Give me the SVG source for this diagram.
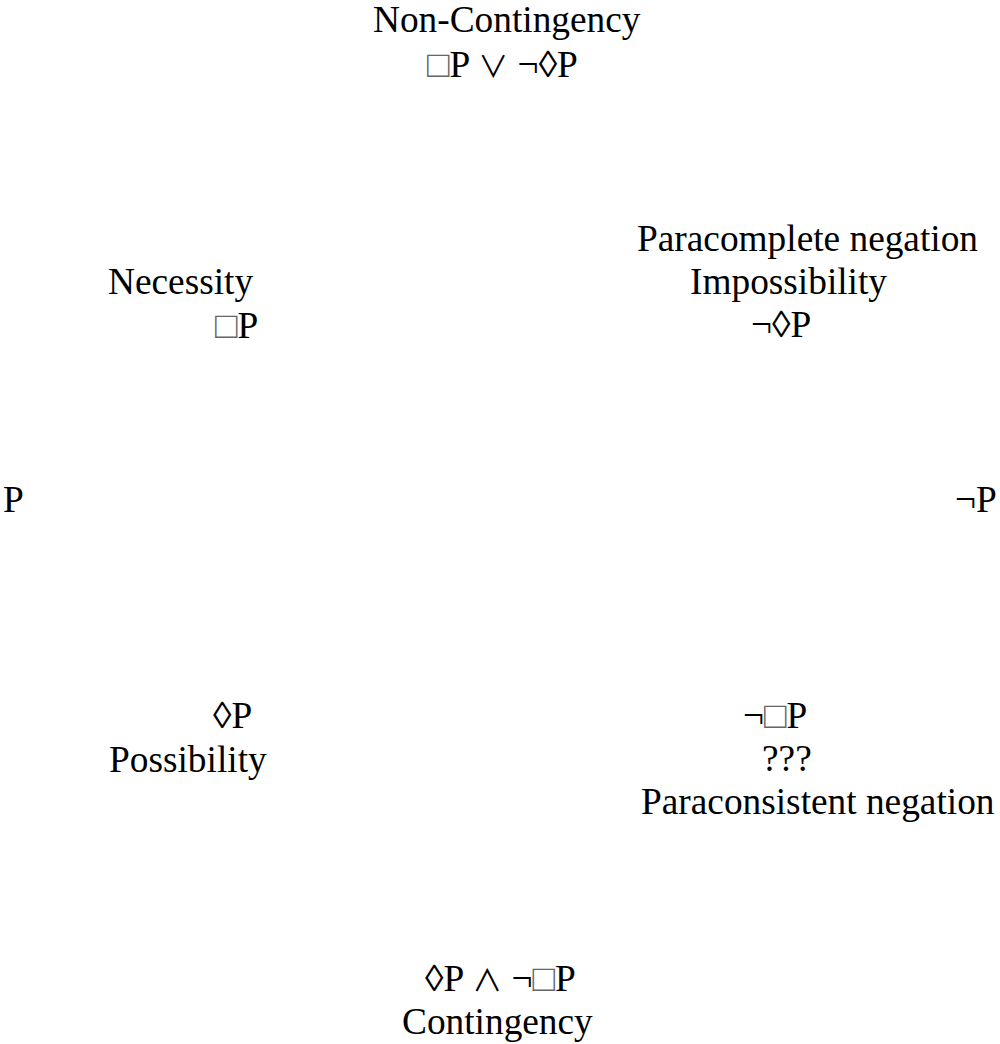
<svg xmlns="http://www.w3.org/2000/svg" width="1000" height="1044" viewBox="0 0 1000 1044">
<style>
text{font-family:"Liberation Serif","Times New Roman","DejaVu Serif",serif;font-size:37.33px;fill:#000}
.bx{fill:#666}
.op{font-family:"Noto Sans CJK SC","DejaVu Sans",sans-serif;font-size:30px}
</style>
<rect width="1000" height="1044" fill="#fff"/>
<g id="non-contingency">
<text x="373" y="32">Non-Contingency</text>
<text x="427" y="77"><tspan class="bx">□</tspan>P <tspan class="op">∨</tspan> ¬◊P</text>
</g>
<g id="necessity">
<text x="108" y="294">Necessity</text>
<text x="215" y="338"><tspan class="bx">□</tspan>P</text>
</g>
<g id="impossibility">
<text x="637" y="251">Paracomplete negation</text>
<text x="690" y="294">Impossibility</text>
<text x="751" y="337">¬◊P</text>
</g>
<g id="p">
<text x="3" y="512">P</text>
</g>
<g id="not-p">
<text x="955" y="512">¬P</text>
</g>
<g id="possibility">
<text x="213" y="728">◊P</text>
<text x="109" y="772">Possibility</text>
</g>
<g id="not-necessity">
<text x="743" y="728">¬<tspan class="bx">□</tspan>P</text>
<text x="762" y="771">???</text>
<text x="641" y="814">Paraconsistent negation</text>
</g>
<g id="contingency">
<text x="425" y="991">◊P <tspan class="op">∧</tspan> ¬<tspan class="bx">□</tspan>P</text>
<text x="402" y="1034">Contingency</text>
</g>
<g id="connectors"></g>
</svg>
